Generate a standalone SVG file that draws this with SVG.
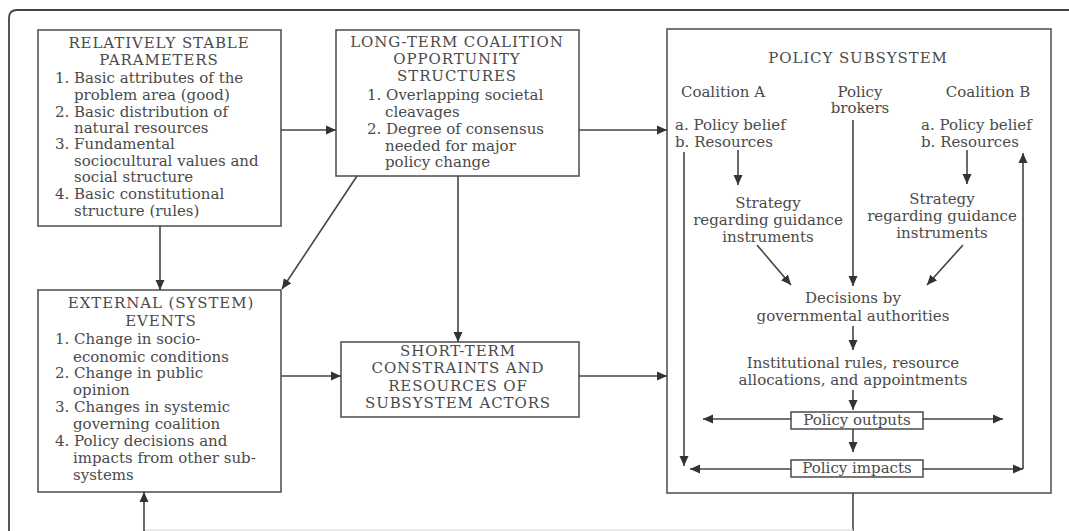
<svg xmlns="http://www.w3.org/2000/svg" width="1069" height="531" viewBox="0 0 1069 531">
<style>
.t{font-family:"DejaVu Serif","Liberation Serif",serif;font-size:15px;fill:#4a4a4a}
.c{text-anchor:middle}
.h{letter-spacing:0.9px}
.box{fill:#fff;stroke:#555;stroke-width:1.6}
.ln{fill:none;stroke:#444;stroke-width:1.6}
.ar{fill:none;stroke:#444;stroke-width:1.6;marker-end:url(#ah)}
</style>
<defs>
<marker id="ah" viewBox="0 0 10 10" refX="10" refY="5" markerWidth="10" markerHeight="10" markerUnits="userSpaceOnUse" orient="auto-start-reverse">
<path d="M0,0.5 L10,5 L0,9.5 Z" fill="#333"/>
</marker>
</defs>
<rect width="1069" height="531" fill="#fff"/>
<path d="M9,531 V18 Q9,10 17,10 H1069" fill="none" stroke="#444" stroke-width="1.8"/>

<g id="stable-parameters">
<rect class="box" x="38" y="30" width="243" height="196"/>
<text class="t c h" x="159" y="48">RELATIVELY STABLE</text>
<text class="t c h" x="159" y="65">PARAMETERS</text>
<text class="t" x="55" y="83">1. Basic attributes of the</text>
<text class="t" x="74" y="100">problem area (good)</text>
<text class="t" x="55" y="117">2. Basic distribution of</text>
<text class="t" x="74" y="133">natural resources</text>
<text class="t" x="55" y="149">3. Fundamental</text>
<text class="t" x="74" y="166">sociocultural values and</text>
<text class="t" x="74" y="182">social structure</text>
<text class="t" x="55" y="199">4. Basic constitutional</text>
<text class="t" x="74" y="216">structure (rules)</text>
</g>

<g id="long-term">
<rect class="box" x="336" y="30" width="243" height="146"/>
<text class="t c h" x="457" y="47">LONG-TERM COALITION</text>
<text class="t c h" x="457" y="64">OPPORTUNITY</text>
<text class="t c h" x="457" y="81">STRUCTURES</text>
<text class="t" x="367" y="100">1. Overlapping societal</text>
<text class="t" x="385" y="117">cleavages</text>
<text class="t" x="367" y="134">2. Degree of consensus</text>
<text class="t" x="385" y="151">needed for major</text>
<text class="t" x="385" y="167">policy change</text>
</g>

<g id="external-events">
<rect class="box" x="38" y="290" width="243" height="202"/>
<text class="t c h" x="161" y="308">EXTERNAL (SYSTEM)</text>
<text class="t c h" x="161" y="326">EVENTS</text>
<text class="t" x="55" y="344">1. Change in socio-</text>
<text class="t" x="73" y="362">economic conditions</text>
<text class="t" x="55" y="378">2. Change in public</text>
<text class="t" x="73" y="395">opinion</text>
<text class="t" x="55" y="412">3. Changes in systemic</text>
<text class="t" x="73" y="429">governing coalition</text>
<text class="t" x="55" y="446">4. Policy decisions and</text>
<text class="t" x="73" y="463">impacts from other sub-</text>
<text class="t" x="73" y="480">systems</text>
</g>

<g id="short-term">
<rect class="box" x="341" y="342" width="238" height="75"/>
<text class="t c h" x="458" y="356">SHORT-TERM</text>
<text class="t c h" x="458" y="373">CONSTRAINTS AND</text>
<text class="t c h" x="458" y="391">RESOURCES OF</text>
<text class="t c h" x="458" y="408">SUBSYSTEM ACTORS</text>
</g>

<g id="policy-subsystem">
<rect class="box" x="667" y="29" width="384" height="464"/>
<text class="t c h" x="858" y="63">POLICY SUBSYSTEM</text>
<text class="t c" x="723" y="97">Coalition A</text>
<text class="t c" x="860" y="97">Policy</text>
<text class="t c" x="860" y="113">brokers</text>
<text class="t c" x="988" y="97">Coalition B</text>
<text class="t" x="675" y="130">a. Policy belief</text>
<text class="t" x="675" y="147">b. Resources</text>
<text class="t" x="921" y="130">a. Policy belief</text>
<text class="t" x="921" y="147">b. Resources</text>
<text class="t c" x="768" y="208">Strategy</text>
<text class="t c" x="768" y="225">regarding guidance</text>
<text class="t c" x="768" y="242">instruments</text>
<text class="t c" x="942" y="204">Strategy</text>
<text class="t c" x="942" y="221">regarding guidance</text>
<text class="t c" x="942" y="238">instruments</text>
<text class="t c" x="853" y="303">Decisions by</text>
<text class="t c" x="853" y="321">governmental authorities</text>
<text class="t c" x="853" y="368">Institutional rules, resource</text>
<text class="t c" x="853" y="385">allocations, and appointments</text>
</g>

<g id="policy-outputs">
<rect class="box" x="791" y="412" width="132" height="17"/>
<text class="t c" x="857" y="425">Policy outputs</text>
</g>

<g id="policy-impacts">
<rect class="box" x="791" y="460" width="132" height="17"/>
<text class="t c" x="857" y="473">Policy impacts</text>
</g>

<g id="connectors">
<path class="ar" d="M281,130 H336"/>
<path class="ar" d="M579,130 H667"/>
<path class="ar" d="M160,226 V290"/>
<path class="ar" d="M357,176 L282,289"/>
<path class="ar" d="M458,176 V342"/>
<path class="ar" d="M281,376 H341"/>
<path class="ar" d="M579,376 H667"/>
<path class="ln" d="M853,493 V531"/>
<path d="M144,530 H853" stroke="#e4e4e4" stroke-width="1.5" fill="none"/>
<path class="ar" d="M144,531 V492"/>
<path class="ar" d="M738,150 V185"/>
<path class="ar" d="M967,150 V184"/>
<path class="ar" d="M684,152 V466"/>
<path class="ar" d="M1023,469 V153"/>
<path class="ar" d="M853,120 V286"/>
<path class="ar" d="M757,245 L791,285"/>
<path class="ar" d="M963,245 L927,285"/>
<path class="ar" d="M853,326 V350"/>
<path class="ar" d="M853,390 V410"/>
<path class="ar" d="M791,419 H703"/>
<path class="ar" d="M923,419 H1003"/>
<path class="ar" d="M853,429 V452"/>
<path class="ar" d="M791,469 H690"/>
<path class="ar" d="M923,469 H1023"/>
</g>
</svg>
